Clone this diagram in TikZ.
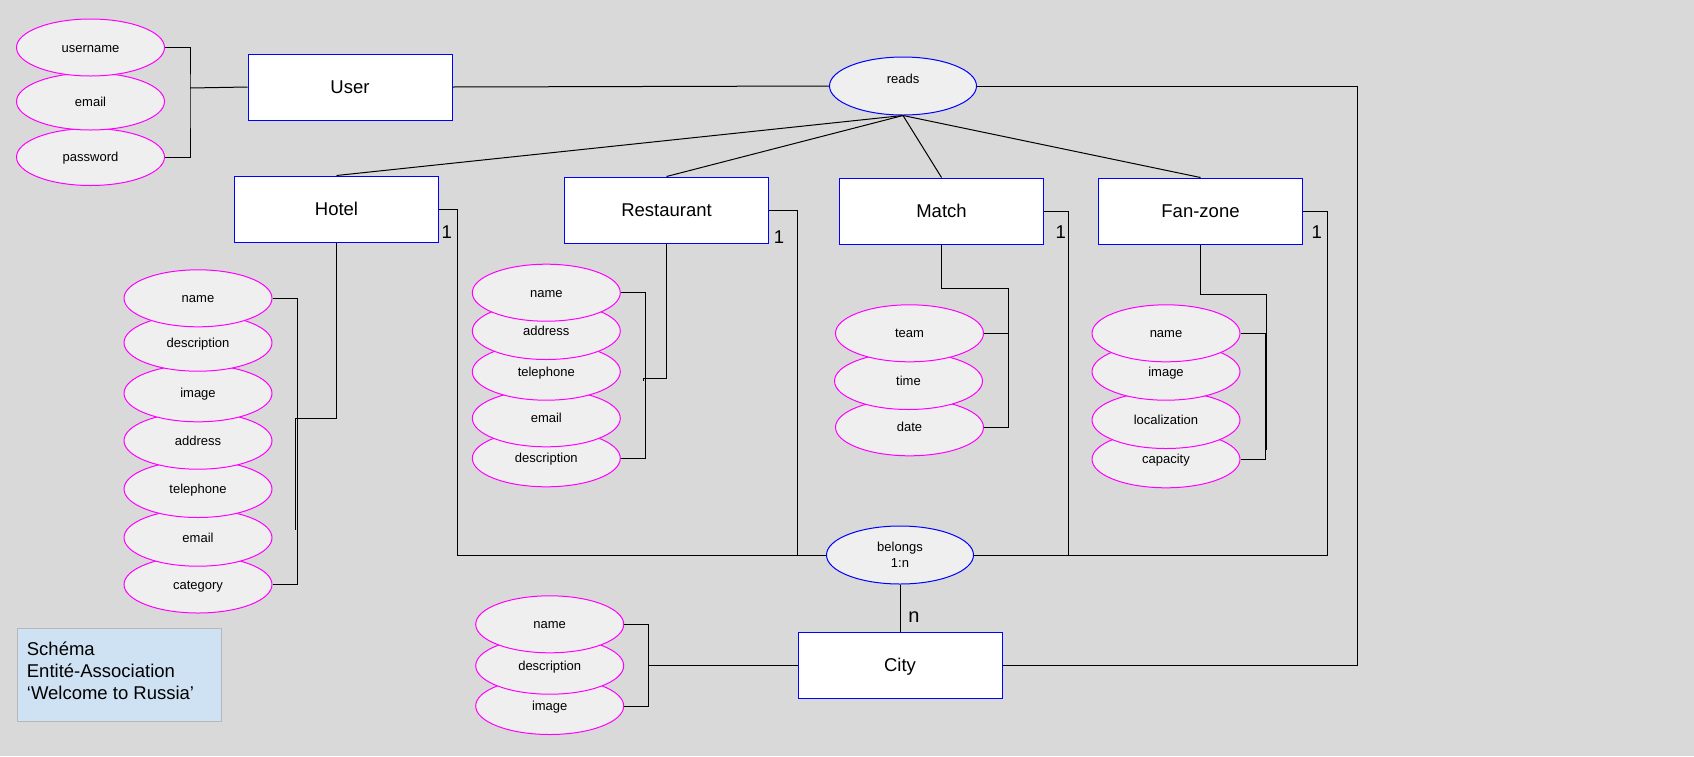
\documentclass[tikz,border=0pt]{standalone}
\usepackage{fontspec}
\setmainfont{Liberation Sans}
\usetikzlibrary{shapes.geometric}

\definecolor{canvas}{HTML}{D9D9D9}
\definecolor{attrfill}{HTML}{EFEFEF}
\definecolor{attrline}{HTML}{FF00FF}
\definecolor{entline}{HTML}{0000FF}
\definecolor{notefill}{HTML}{CFE2F3}
\definecolor{noteline}{HTML}{B7B7B7}

\tikzset{
  entity/.style={draw=entline, fill=white, line width=1pt, minimum width=204pt,
    minimum height=66pt, inner sep=0pt, font=\fontsize{18.5}{22}\selectfont,
    text height=12.8pt, text depth=0pt},
  attr/.style={ellipse, draw=attrline, fill=attrfill, line width=1pt,
    minimum width=148pt, minimum height=57pt, inner sep=0pt,
    font=\fontsize{13}{15.6}\selectfont, text height=9pt, text depth=0pt},
  rel/.style={ellipse, draw=entline, fill=attrfill, line width=1pt,
    minimum width=147pt, minimum height=58pt, inner sep=0pt,
    font=\fontsize{13}{15.6}\selectfont},
  link/.style={draw=black, line width=1pt},
  card/.style={font=\fontsize{18.5}{22}\selectfont, inner sep=0pt,
    text height=13.2pt, text depth=0pt},
  notebox/.style={draw=noteline, fill=notefill, line width=1pt,
    minimum width=204pt, minimum height=93pt, inner sep=0pt},
  notetext/.style={font=\fontsize{18.5}{21.8}\selectfont, align=left, inner sep=0pt},
}

\begin{document}
\begin{tikzpicture}[x=1pt, y=-1pt]
  \fill[canvas] (0,0) rectangle (1694,756);
  \useasboundingbox (0,0) rectangle (1694,756);

  % entities
  \node[entity] (User) at (350,87) {User};
  \node[entity] (Hotel) at (336.5,209) {Hotel};
  \node[entity] (Restaurant) at (666.5,210) {Restaurant};
  \node[entity] (Match) at (941.5,211) {Match};
  \node[entity] (Fanzone) at (1200.5,211) {Fan-zone};
  \node[entity] (City) at (900,665.3) {City};

  % relationships
  \node[rel, text height=9pt, text depth=14pt] (reads) at (903,86) {reads};
  \node[rel, align=center] (belongs) at (900,555) {belongs\\1:n};

  % user attributes (lower ones first, so upper ones overlap them)
  \node[attr] (u-pass) at (90.5,157) {password};
  \node[attr] (u-mail) at (90.5,101.5) {email};
  \node[attr] (u-name) at (90.5,47.5) {username};

  % hotel attributes
  \node[attr] (h-cat) at (198,584.5) {category};
  \node[attr] (h-mail) at (198,537.7) {email};
  \node[attr] (h-tel) at (198,489) {telephone};
  \node[attr] (h-addr) at (198,440.7) {address};
  \node[attr] (h-img) at (198,393.3) {image};
  \node[attr] (h-desc) at (198,342.7) {description};
  \node[attr] (h-name) at (198,298.3) {name};

  % restaurant attributes
  \node[attr] (r-desc) at (546.3,458.3) {description};
  \node[attr] (r-mail) at (546.3,418.3) {email};
  \node[attr] (r-tel) at (546.3,371.7) {telephone};
  \node[attr] (r-addr) at (546.3,331) {address};
  \node[attr] (r-name) at (546.3,292.7) {name};

  % match attributes
  \node[attr] (m-date) at (909.5,427.3) {date};
  \node[attr] (m-time) at (908.5,381) {time};
  \node[attr] (m-team) at (909.5,333.3) {team};

  % fan-zone attributes
  \node[attr] (f-cap) at (1166,459.3) {capacity};
  \node[attr] (f-loc) at (1166,420) {localization};
  \node[attr] (f-img) at (1166,371.7) {image};
  \node[attr] (f-name) at (1166,333.3) {name};

  % city attributes
  \node[attr] (c-img) at (549.7,706) {image};
  \node[attr] (c-desc) at (549.7,665.7) {description};
  \node[attr] (c-name) at (549.7,624.3) {name};

  % bend points of the connectors
  \coordinate (ubr) at (190,100);
  \coordinate (ujoin) at (190,88);
  \coordinate (rcorner) at (1357,400);
  \coordinate (hj) at (457.3,555);
  \coordinate (rj) at (797.3,555);
  \coordinate (mj) at (1068,555);
  \coordinate (fj) at (1327.3,555);
  \coordinate (hbr) at (297.3,440);
  \coordinate (hlink) at (295.3,418.3);
  \coordinate (hlinkend) at (295.3,530);
  \coordinate (rbr) at (645.3,375);
  \coordinate (rlink) at (643.3,378.3);
  \coordinate (rlinkend) at (643.3,381);
  \coordinate (mtop) at (1008.2,288.3);
  \coordinate (ftop) at (1266.3,294.3);
  \coordinate (flinkend) at (1266.3,450);
  \coordinate (fbr) at (1265.3,400);
  \coordinate (cbr) at (648.3,665.3);

  % user
  \draw[link] (u-name.east) -| (ubr) |- (u-pass.east);
  \draw[link] (ujoin) -- (User.west);
  \draw[link] (User.east) -- (reads.west);
  \draw[link] (reads.east) -| (rcorner) |- (City.east);

  % reads
  \draw[link] (reads.south) -- (Hotel.north);
  \draw[link] (reads.south) -- (Restaurant.north);
  \draw[link] (reads.south) -- (Match.north);
  \draw[link] (reads.south) -- (Fanzone.north);

  % belongs
  \draw[link] (Hotel.east) -| (hj) -- (belongs.west);
  \draw[link] (Restaurant.east) -| (rj);
  \draw[link] (Match.east) -| (mj);
  \draw[link] (Fanzone.east) -| (fj) -- (belongs.east);
  \draw[link] (belongs.south) -- (City.north);

  % attribute brackets
  \draw[link] (h-name.east) -| (hbr) |- (h-cat.east);
  \draw[link] (Hotel.south) |- (hlink) -- (hlinkend);
  \draw[link] (r-name.east) -| (rbr) |- (r-desc.east);
  \draw[link] (Restaurant.south) |- (rlink) -- (rlinkend);
  \draw[link] (Match.south) |- (mtop) |- (m-date.east);
  \draw[link] (m-team.east) -- (m-team.east -| mtop);
  \draw[link] (Fanzone.south) |- (ftop) -- (flinkend);
  \draw[link] (f-name.east) -| (fbr) |- (f-cap.east);
  \draw[link] (c-name.east) -| (cbr) |- (c-img.east);
  \draw[link] (cbr) -- (City.west);

  % cardinalities
  \node[card] (k-hotel) at (446.7,231.7) {1};
  \node[card] (k-rest) at (779,236.7) {1};
  \node[card] (k-match) at (1060.7,232.3) {1};
  \node[card] (k-fan) at (1316.7,231.7) {1};
  \node[card, font=\fontsize{20}{24}\selectfont, text height=10.4pt] (k-city) at (914,617.3) {n};

  % caption
  \node[notebox] (note) at (119.3,674.8) {};
  \node[notetext, anchor=north west] (notetxt) at (26.7,642) {Schéma\\Entité-Association\\‘Welcome to Russia’};
\end{tikzpicture}
\end{document}
